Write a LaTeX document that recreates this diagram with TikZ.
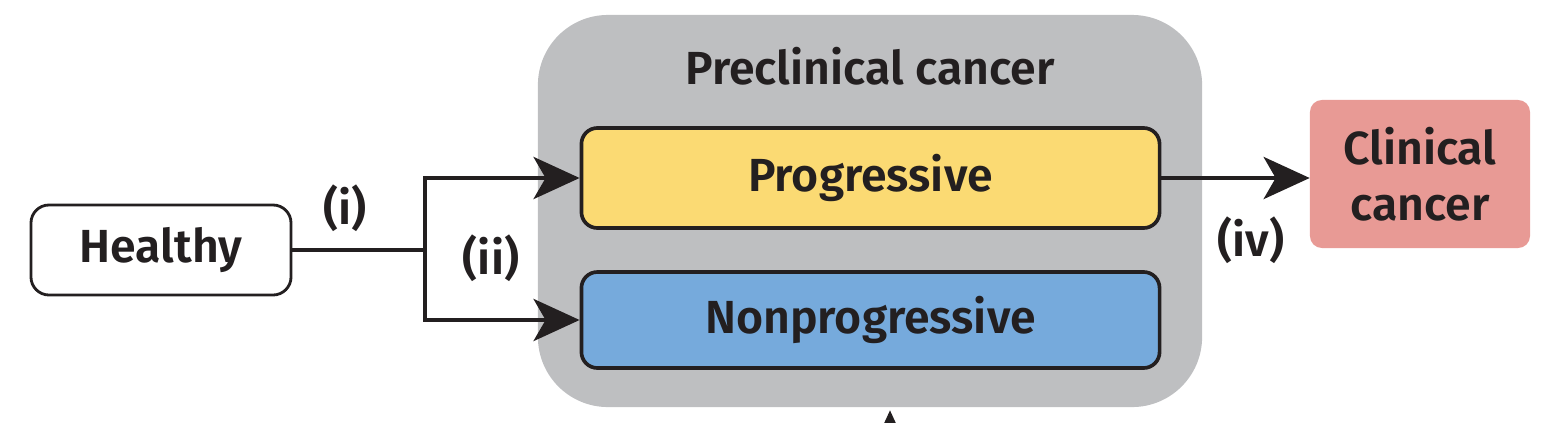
\documentclass[tikz,border=0pt]{standalone}
\usepackage{fontspec}
\setmainfont{Fira Sans}[BoldFont={Fira Sans SemiBold}]
\usetikzlibrary{arrows.meta}
\definecolor{ink}{HTML}{231F20}
\definecolor{pregray}{HTML}{BEBFC1}
\definecolor{progyellow}{HTML}{FBDA73}
\definecolor{nonblue}{HTML}{76AADC}
\definecolor{clinpink}{HTML}{E89A95}
\begin{document}
\begin{tikzpicture}[x=0.025cm, y=-0.025cm,
  every node/.style={font=\fontsize{33}{40}\selectfont\bfseries, text=ink},
  state/.style={draw=ink, line width=2.6pt, rounded corners=0.4cm, inner sep=0pt},
  arr/.style={draw=ink, line width=3.4pt, -{Stealth[length=1.15cm, width=1.05cm, inset=0.3cm]}}]
  \useasboundingbox (0,0) rectangle (1552,422);

  \node[fill=pregray, rounded corners=1.75cm, minimum width=16.6cm, minimum height=9.8cm] (pre) at (870,211) {};
  \node (pretitle) at (870,66) {Preclinical cancer};

  \node[state, fill=progyellow, minimum width=14.45cm, minimum height=2.5cm] (prog) at (870.5,178) {Progressive};
  \node[state, fill=nonblue, minimum width=14.45cm, minimum height=2.4cm] (nonprog) at (870.5,320) {Nonprogressive};
  \node[state, fill=white, line width=2pt, rounded corners=0.45cm, minimum width=6.5cm, minimum height=2.25cm] (healthy) at (161,250) {Healthy};
  \node[fill=clinpink, rounded corners=0.3cm, minimum width=5.5cm, minimum height=3.7cm, align=center] (clin) at (1420,174) {Clinical\\cancer};

  \coordinate (split) at (425,250);
  \coordinate (below) at (890,480);

  \draw[draw=ink, line width=3.4pt] (healthy.east) -- (split);
  \draw[arr] (split) |- (prog.west);
  \draw[arr] (split) |- (nonprog.west);
  \draw[arr] (prog.east) -- (prog.east -| clin.west);
  \draw[arr, shorten >=0.075cm] (below) -- (below |- pre.south);

  \node (i) at (345,208) {(i)};
  \node (ii) at (491,258) {(ii)};
  \node (iv) at (1251,240) {(iv)};
\end{tikzpicture}
\end{document}
